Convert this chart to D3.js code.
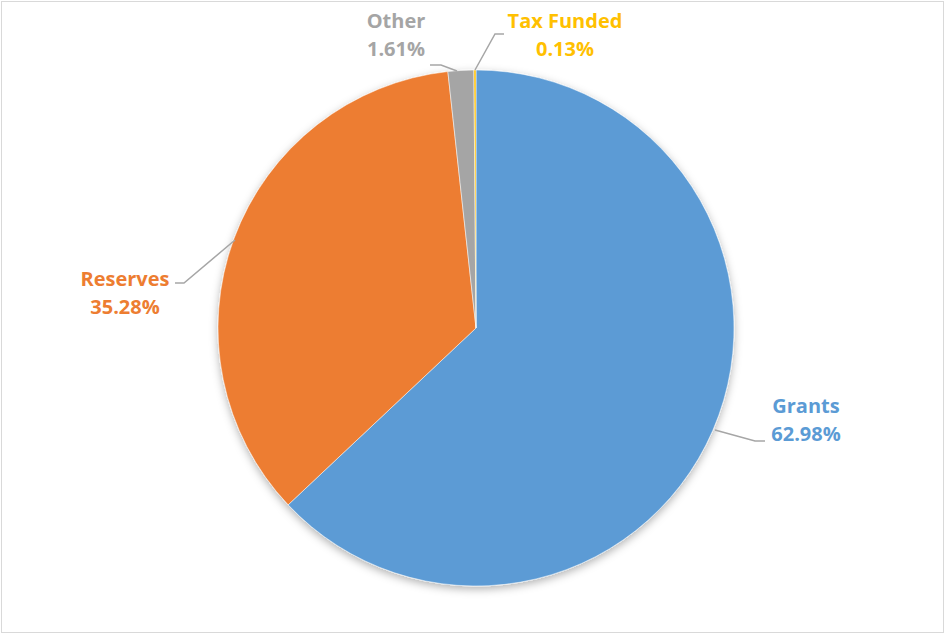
<!DOCTYPE html>
<html>
<head>
<meta charset="utf-8">
<script src="https://cdn.jsdelivr.net/npm/d3@7"></script>
<style>
  body { margin: 0; background: #fff; }
</style>
</head>
<body>
<div id="chart"></div>
<script>
// slice data, clockwise from 12 o'clock
var categories = ["Grants", "Reserves", "Other", "Tax Funded"];
var values = [62.98, 35.28, 1.61, 0.13];
var labels = ["62.98%", "35.28%", "1.61%", "0.13%"];
var colors = ["#5b9bd5", "#ed7d31", "#a5a5a5", "#ffc000"];

var width = 946, height = 634;
var cx = 476, cy = 328, radius = 258;

var svg = d3.select("#chart")
    .append("svg")
    .attr("width", width)
    .attr("height", height);

// chart frame
svg.append("rect")
    .attr("x", 1.5).attr("y", 1.5)
    .attr("width", width - 4).attr("height", height - 3)
    .style("fill", "white")
    .style("stroke", "#d9d9d9");

var defs = svg.append("defs");
defs.append("filter")
    .attr("id", "shadow")
    .attr("x", "-20%").attr("y", "-20%")
    .attr("width", "140%").attr("height", "140%")
    .append("feDropShadow")
    .attr("dx", 0).attr("dy", 3)
    .attr("stdDeviation", 4)
    .attr("flood-color", "#000")
    .attr("flood-opacity", 0.3);

var pie = d3.pie().sort(null).value(function(d) { return d; });
var arc = d3.arc().innerRadius(0).outerRadius(radius);
var slices = pie(values);

var g = svg.append("g")
    .attr("transform", "translate(" + cx + "," + cy + ")")
    .attr("filter", "url(#shadow)");

g.selectAll("path")
    .data(slices)
    .enter()
    .append("path")
    .attr("d", arc)
    .style("fill", function(d, i) { return colors[i]; })
    .style("stroke", "white")
    .style("stroke-width", 0.5);

// label placement (label center x, first line baseline) and leader lines
var labelPos = [
    { x: 806, y: 413 },
    { x: 125, y: 286 },
    { x: 396, y: 28 },
    { x: 565, y: 28 }
];
var leaders = [
    [[715, 430], [755, 441], [765, 441]],
    [[235, 240], [184, 283], [175, 283]],
    [[457, 71], [441, 65], [430, 65]],
    [[475, 70], [495, 34], [504, 34]]
];

var line = d3.line();
svg.selectAll(".leader")
    .data(leaders)
    .enter()
    .append("path")
    .attr("class", "leader")
    .attr("d", line)
    .style("fill", "none")
    .style("stroke", "#a6a6a6")
    .style("stroke-width", 1.5);

var lbl = svg.selectAll(".lbl")
    .data(categories)
    .enter()
    .append("text")
    .attr("class", "lbl")
    .attr("text-anchor", "middle")
    .style("font-family", "'Open Sans', 'Noto Sans', sans-serif")
    .style("font-weight", "bold")
    .style("font-size", "20px")
    .style("fill", function(d, i) { return colors[i]; });

lbl.append("tspan")
    .attr("x", function(d, i) { return labelPos[i].x; })
    .attr("y", function(d, i) { return labelPos[i].y; })
    .text(function(d) { return d; });

lbl.append("tspan")
    .attr("x", function(d, i) { return labelPos[i].x; })
    .attr("y", function(d, i) { return labelPos[i].y + 28; })
    .text(function(d, i) { return labels[i]; });
</script>
</body>
</html>
